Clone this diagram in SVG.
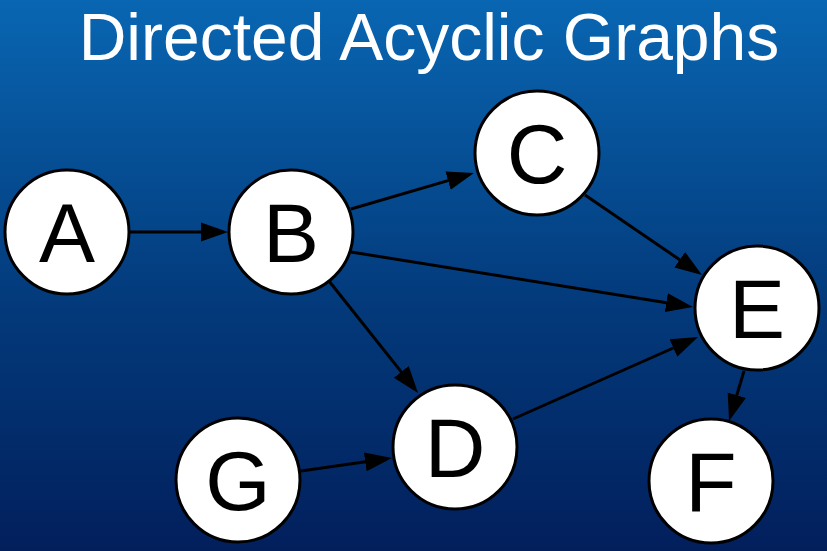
<svg xmlns="http://www.w3.org/2000/svg" width="827" height="551" viewBox="0 0 827 551">
  <defs>
    <linearGradient id="bg" x1="0" y1="0" x2="0" y2="1">
      <stop offset="0" stop-color="#0966b2"/>
      <stop offset="0.55" stop-color="#033a7b"/>
      <stop offset="1" stop-color="#021f5c"/>
    </linearGradient>
    <marker id="arrow" markerUnits="userSpaceOnUse" markerWidth="28" markerHeight="22" viewBox="0 0 28 22" refX="16" refY="11" orient="auto">
      <path d="M0,1.5 L27,11 L0,20.5 Z" fill="#000"/>
    </marker>
    <style>
      .node circle { fill: #fff; stroke: #000; stroke-width: 3; }
      .node text { font-family: "Liberation Sans", Arial, sans-serif; font-size: 84px; fill: #000; text-anchor: middle; }
      .edge { stroke: #000; stroke-width: 3; fill: none; marker-end: url(#arrow); }
      .title { font-family: "Liberation Sans", Arial, sans-serif; font-size: 66px; fill: #fff; text-anchor: middle; }
    </style>
  </defs>
  <rect x="0" y="0" width="827" height="551" fill="url(#bg)"/>
  <text class="title" x="429" y="60">Directed Acyclic Graphs</text>
  <g id="connectors">
    <line class="edge" x1="129" y1="232" x2="217" y2="232"/>
    <line class="edge" x1="351" y1="209" x2="463.4" y2="176.1"/>
    <line class="edge" x1="351" y1="252" x2="682.1" y2="305.2"/>
    <line class="edge" x1="585" y1="195" x2="692.9" y2="268.8"/>
    <line class="edge" x1="329" y1="281" x2="411.2" y2="384.4"/>
    <line class="edge" x1="301" y1="471" x2="381.1" y2="459.6"/>
    <line class="edge" x1="513" y1="419" x2="688" y2="341.5"/>
    <line class="edge" x1="744" y1="371" x2="732.2" y2="410.5"/>
  </g>
  <g id="node-A" class="node"><circle cx="67" cy="232" r="62"/><text x="67" y="262">A</text></g>
  <g id="node-B" class="node"><circle cx="291" cy="232" r="62"/><text x="291" y="262">B</text></g>
  <g id="node-C" class="node"><circle cx="537" cy="153" r="62"/><text x="537" y="183">C</text></g>
  <g id="node-D" class="node"><circle cx="455" cy="447" r="62"/><text x="455" y="477">D</text></g>
  <g id="node-E" class="node"><circle cx="757" cy="308" r="62"/><text x="757" y="338">E</text></g>
  <g id="node-F" class="node"><circle cx="711" cy="481" r="62"/><text x="711" y="511">F</text></g>
  <g id="node-G" class="node"><circle cx="238" cy="480" r="62"/><text x="238" y="510">G</text></g>
</svg>
